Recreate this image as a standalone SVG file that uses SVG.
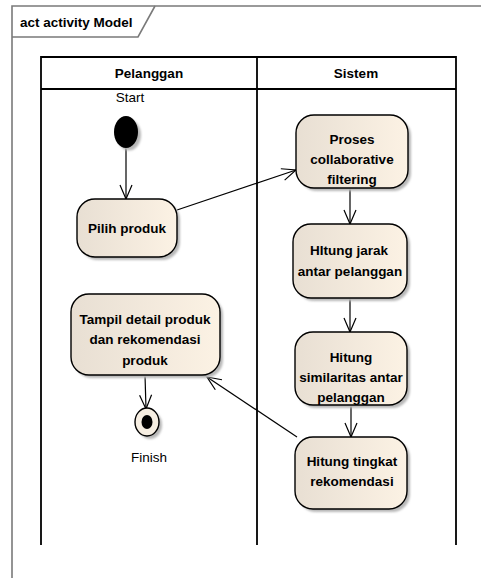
<svg xmlns="http://www.w3.org/2000/svg" width="481" height="578" viewBox="0 0 481 578">
<style>
text{font-family:"Liberation Sans",Arial,sans-serif;fill:#000}
.b{font-weight:bold;font-size:13.5px;text-anchor:middle}
.n{font-size:13.5px;text-anchor:middle}
.act{fill:url(#g);stroke:#000;stroke-width:1.4}
.sh{fill:#b8b8b8;filter:url(#blur)}
.lane{stroke:#000;stroke-width:1.8;fill:none}
.frame{stroke:#7a7a7a;stroke-width:1.6;fill:none}
.c{stroke:#000;stroke-width:1.2;fill:none;marker-end:url(#arr)}
</style>
<defs>
<linearGradient id="g" x1="0" y1="0" x2="1" y2="0">
<stop offset="0" stop-color="#e8dfd3"/>
<stop offset="1" stop-color="#fcf2e4"/>
</linearGradient>
<filter id="blur" x="-10%" y="-10%" width="130%" height="130%"><feGaussianBlur stdDeviation="1.2"/></filter>
<marker id="arr" markerUnits="userSpaceOnUse" markerWidth="17" markerHeight="14" refX="15" refY="7" orient="auto">
<path d="M1,1 L15,7 L1,13" fill="none" stroke="#000" stroke-width="1.2"/>
</marker>
</defs>
<g id="frame">
<path class="frame" d="M12,578 V6 H481"/>
<path class="frame" d="M12,37 H138 L155,6"/>
<text x="20" y="27" font-size="13.5" font-weight="bold">act activity Model</text>
</g>
<g id="lanes">
<path class="lane" d="M41,545 V57 H456 V545 M41,89 H456 M257,57 V545"/>
<text class="b" x="149" y="78">Pelanggan</text>
<text class="b" x="356" y="78">Sistem</text>
</g>
<g id="connectors">
<line class="c" x1="126" y1="148" x2="126" y2="199"/>
<line class="c" x1="177" y1="210" x2="296" y2="170"/>
<line class="c" x1="350" y1="188" x2="350" y2="224"/>
<line class="c" x1="350" y1="298" x2="350" y2="332"/>
<line class="c" x1="351" y1="405" x2="351" y2="437"/>
<line class="c" x1="297" y1="437" x2="207" y2="377"/>
<line class="c" x1="145" y1="375" x2="146" y2="409"/>
</g>
<g id="start">
<ellipse class="sh" cx="129" cy="135" rx="12" ry="15.5"/>
<ellipse cx="126" cy="132" rx="12" ry="16" fill="#000"/>
<text class="n" x="130" y="102">Start</text>
</g>
<g id="pilih">
<rect class="sh" x="80" y="202" width="100" height="58" rx="18"/>
<rect class="act" x="77" y="199" width="100" height="58" rx="18"/>
<text class="b" x="127" y="233">Pilih produk</text>
</g>
<g id="proses">
<rect class="sh" x="299" y="118" width="112" height="73" rx="18"/>
<rect class="act" x="296" y="115" width="112" height="73" rx="18"/>
<text class="b" x="352" y="144">Proses</text>
<text class="b" x="352" y="164">collaborative</text>
<text class="b" x="352" y="184">filtering</text>
</g>
<g id="jarak">
<rect class="sh" x="296" y="227" width="114" height="74" rx="18"/>
<rect class="act" x="293" y="224" width="114" height="74" rx="18"/>
<text class="b" x="349" y="255">HItung jarak</text>
<text class="b" x="350" y="276">antar pelanggan</text>
</g>
<g id="similaritas">
<rect class="sh" x="298" y="335" width="112" height="73" rx="18"/>
<rect class="act" x="295" y="332" width="112" height="73" rx="18"/>
<text class="b" x="351" y="362">Hitung</text>
<text class="b" x="351" y="382">similaritas antar</text>
<text class="b" x="351" y="402">pelanggan</text>
</g>
<g id="tingkat">
<rect class="sh" x="298" y="440" width="112" height="72" rx="18"/>
<rect class="act" x="295" y="437" width="112" height="72" rx="18"/>
<text class="b" x="352" y="466">Hitung tingkat</text>
<text class="b" x="352" y="486">rekomendasi</text>
</g>
<g id="tampil">
<rect class="sh" x="74" y="297" width="149" height="81" rx="18"/>
<rect class="act" x="71" y="294" width="149" height="81" rx="18"/>
<text class="b" x="145" y="324">Tampil detail produk</text>
<text class="b" x="145" y="344">dan rekomendasi</text>
<text class="b" x="145" y="365">produk</text>
</g>
<g id="finish">
<ellipse class="sh" cx="150" cy="425" rx="12" ry="14"/>
<ellipse cx="147" cy="422" rx="12" ry="14" fill="#f6eee2" stroke="#000" stroke-width="1.4"/>
<ellipse cx="147" cy="422" rx="5.5" ry="7" fill="#000"/>
<text class="n" x="149" y="462">Finish</text>
</g>
</svg>
